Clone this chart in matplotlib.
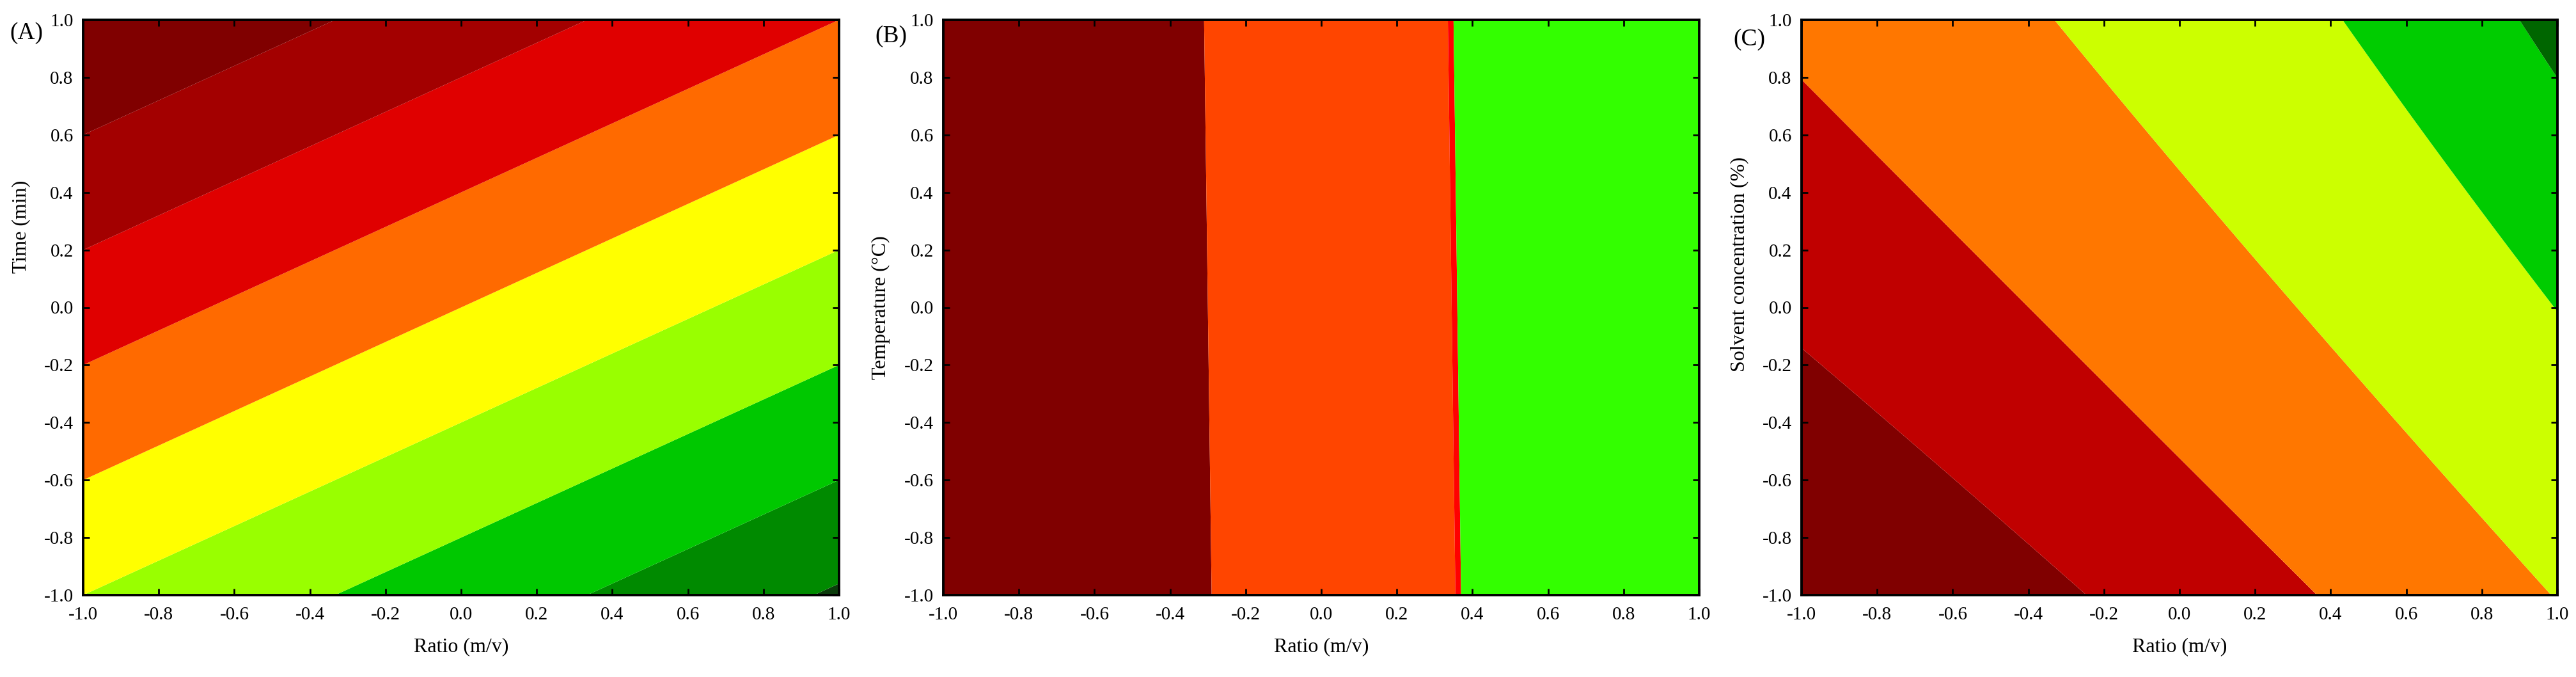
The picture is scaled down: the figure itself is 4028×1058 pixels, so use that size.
import numpy as np
import matplotlib
matplotlib.use("Agg")
import matplotlib.pyplot as plt

plt.rcParams['font.family'] = ['Liberation Serif', 'DejaVu Serif']
plt.rcParams['axes.unicode_minus'] = False

# coded factor range
coded = np.linspace(-1.0, 1.0, 501)

# fitted response surfaces: z = bx*x + by*y + bxx*x^2 + byy*y^2 + bxy*x*y
coef_a = [-0.6, 1.0, 0.0, 0.0, 0.0]     # Ratio vs Time
coef_b = [1.0, 0.01, 0.0, 0.0, 0.0]     # Ratio vs Temperature
coef_c = [1.0, 0.7, 0.1, -0.06, 0.0]    # Ratio vs Solvent concentration

levels_a = [-2.0, -1.56, -1.2, -0.8, -0.4, 0.0, 0.4, 0.8, 1.2, 2.0]
colors_a = ['#0b3b0b', '#008a00', '#00c800', '#99ff00', '#ffff00',
            '#ff6a00', '#e00000', '#a30000', '#800000']

levels_b = [-2.0, -0.3, 0.345, 0.36, 2.0]
colors_b = ['#800000', '#ff4500', '#ff0000', '#33ff00']

levels_c = [-3.0, -1.0, -0.383, 0.32, 1.09, 1.62, 3.0]
colors_c = ['#800000', '#c00000', '#ff7700', '#ccff00', '#00cc00', '#006600']

ylabels = ['Time (min)', 'Temperature (\u00b0C)', 'Solvent concentration (%)']
ylabel_pos = [0.64, 0.5, 0.575]
panel_tags = ['(A)', '(B)', '(C)']
ticks = [-1.0, -0.8, -0.6, -0.4, -0.2, 0.0, 0.2, 0.4, 0.6, 0.8, 1.0]
tick_labels = ['-1.0', '-0.8', '-0.6', '-0.4', '-0.2', '0.0', '0.2', '0.4', '0.6', '0.8', '1.0']


def surface(coef, X, Y):
    bx, by, bxx, byy, bxy = coef
    return bx*X + by*Y + bxx*X**2 + byy*Y**2 + bxy*X*Y


X, Y = np.meshgrid(coded, coded)

fig = plt.figure(figsize=(40.28, 10.58), dpi=100)
lefts = [130/4028, 1475/4028, 2817/4028]
tag_xy = [(41/4028, 1-52/1058), (1393/4028, 1-57/1058), (2735/4028, 1-62/1058)]

panels = [(coef_a, levels_a, colors_a), (coef_b, levels_b, colors_b), (coef_c, levels_c, colors_c)]

for i, (coef, lev, cols) in enumerate(panels):
    ax = fig.add_axes([lefts[i], 128/1058, 1182/4028, 899/1058])
    Z = surface(coef, X, Y)
    ax.contourf(X, Y, Z, levels=lev, colors=cols, antialiased=True)
    ax.set_xlim(-1, 1)
    ax.set_ylim(-1, 1)
    ax.set_xticks(ticks)
    ax.set_yticks(ticks)
    ax.set_xticklabels(tick_labels)
    ax.set_yticklabels(tick_labels)
    ax.tick_params(direction='in', top=True, right=True, length=7, width=2,
                   labelsize=21)
    ax.tick_params(axis='x', pad=13)
    ax.tick_params(axis='y', pad=11)
    for sp in ax.spines.values():
        sp.set_linewidth(2.8)
        sp.set_color('black')
    ax.set_xlabel('Ratio (m/v)', fontsize=23, labelpad=16)
    ax.set_ylabel(ylabels[i], fontsize=23)
    ax.yaxis.set_label_coords(-0.07, ylabel_pos[i])
    fig.text(tag_xy[i][0], tag_xy[i][1], panel_tags[i], fontsize=27,
             ha='center', va='center')

fig.savefig('out.png', dpi=100)
